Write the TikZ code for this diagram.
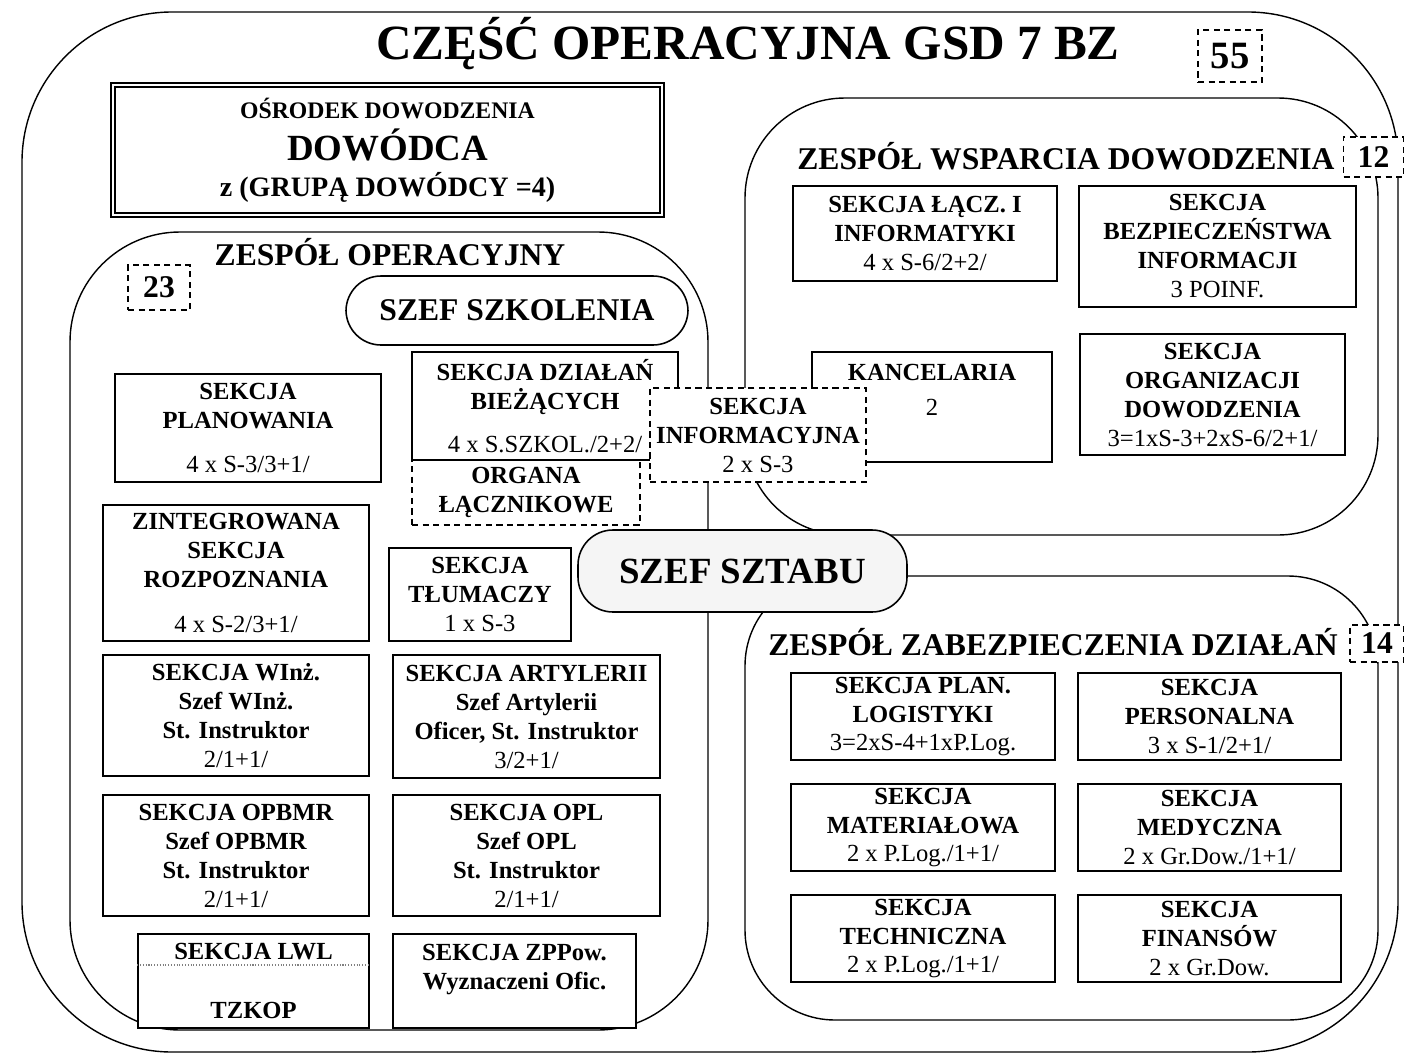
\documentclass[tikz,border=0pt]{standalone}
\usepackage{fontspec}
\setmainfont{Liberation Serif}
\newcommand{\ilosc}[1]{{\mdseries #1}}
\tikzset{
  zespol/.style={draw, line width=0.8pt},
  sekcja/.style={draw, line width=1.1pt, fill=white, align=center, inner sep=0pt, font=\fontsize{14}{16.5}\selectfont\bfseries},
  przerywana/.style={sekcja, dash pattern=on 3.5pt off 2.5pt},
  numer/.style={draw, line width=1.1pt, fill=white, dash pattern=on 3.5pt off 2.5pt, inner sep=0pt, font=\fontsize{18}{20}\selectfont\bfseries},
  naglowek/.style={font=\fontsize{18}{22}\selectfont\bfseries},
  szef/.style={draw, line width=0.9pt, rounded corners=0.7cm, inner sep=0pt, font=\fontsize{18}{22}\selectfont\bfseries}
}
\begin{document}
\begin{tikzpicture}
\useasboundingbox (0,0) rectangle (28.08,-21.24);

% zespoly
\draw [zespol, rounded corners=3cm] (0.44,-0.24) rectangle (27.96,-21.04);
\draw [zespol, rounded corners=2.2cm] (1.4,-4.64) rectangle (14.16,-20.6);
\draw [zespol, rounded corners=2cm] (14.9,-1.96) rectangle (27.56,-10.7);
\draw [zespol, rounded corners=1.8cm] (14.9,-11.52) rectangle (27.56,-20.4);

\node [font=\fontsize{28}{32}\selectfont\bfseries] (tytul) at (14.96,-0.88) {CZĘŚĆ OPERACYJNA GSD 7 BZ};

\node [sekcja, double, double distance=1.3pt, line width=0.9pt, minimum width=10.98cm, minimum height=2.6cm, font=\fontsize{13.5}{16}\selectfont\bfseries] (dowodca) at (7.75,-3.0) {OŚRODEK DOWODZENIA\\[5pt]{\fontsize{21}{24}\selectfont DOWÓDCA}\\[4pt]{\fontsize{16}{18}\selectfont z (GRUPĄ DOWÓDCY =4)}};

% zespol operacyjny
\node [naglowek] (toper) at (7.8,-5.04) {ZESPÓŁ OPERACYJNY};
\node [numer, minimum width=1.24cm, minimum height=0.9cm] (n23) at (3.18,-5.75) {23};
\node [szef, fill=white, minimum width=6.84cm, minimum height=1.38cm] (szkolenie) at (10.34,-6.21) {SZEF SZKOLENIA};

\node [przerywana, minimum width=4.56cm, minimum height=1.3cm] (organa) at (10.52,-9.85) {ORGANA\\ŁĄCZNIKOWE};
\node [sekcja, minimum width=5.32cm, minimum height=2.16cm] (dzialania) at (10.9,-8.12) {SEKCJA DZIAŁAŃ\\BIEŻĄCYCH\\[8pt]\ilosc{4 x S.SZKOL./2+2/}};
\node [sekcja, minimum width=5.32cm, minimum height=2.16cm] (planowanie) at (4.96,-8.56) {SEKCJA\\PLANOWANIA\\[9pt]\ilosc{4 x S-3/3+1/}};
\node [sekcja, minimum width=5.32cm, minimum height=2.72cm] (rozpoznanie) at (4.72,-11.46) {ZINTEGROWANA\\SEKCJA\\ROZPOZNANIA\\[9pt]\ilosc{4 x S-2/3+1/}};
\node [sekcja, minimum width=3.64cm, minimum height=1.86cm] (tlumacze) at (9.6,-11.89) {SEKCJA\\TŁUMACZY\\\ilosc{1 x S-3}};
\node [sekcja, minimum width=5.32cm, minimum height=2.42cm] (winz) at (4.72,-14.31) {SEKCJA WInż.\\Szef WInż.\\St. Instruktor\\\ilosc{2/1+1/}};
\node [sekcja, minimum width=5.34cm, minimum height=2.46cm] (artyleria) at (10.53,-14.33) {SEKCJA ARTYLERII\\Szef Artylerii\\Oficer, St. Instruktor\\\ilosc{3/2+1/}};
\node [sekcja, minimum width=5.32cm, minimum height=2.42cm] (opbmr) at (4.72,-17.11) {SEKCJA OPBMR\\Szef OPBMR\\St. Instruktor\\\ilosc{2/1+1/}};
\node [sekcja, minimum width=5.34cm, minimum height=2.42cm] (opl) at (10.53,-17.11) {SEKCJA OPL\\Szef OPL\\St. Instruktor\\\ilosc{2/1+1/}};
\node [sekcja, line width=0.9pt, minimum width=4.62cm, minimum height=1.88cm] (lwl) at (5.07,-19.62) {SEKCJA LWL\\[17pt]TZKOP};
\draw [gray, densely dotted, line width=0.6pt] ([yshift=0.32cm]lwl.west) -- ([yshift=0.32cm]lwl.east);
\node [sekcja, line width=0.9pt, minimum width=4.86cm, minimum height=1.88cm] (zppow) at (10.29,-19.62) {SEKCJA ZPPow.\\Wyznaczeni Ofic.\\\mbox{}};

% zespol wsparcia dowodzenia
\node [naglowek] (twsp) at (21.32,-3.12) {ZESPÓŁ WSPARCIA DOWODZENIA};
\node [sekcja, minimum width=5.28cm, minimum height=1.9cm] (lacznosc) at (18.5,-4.67) {SEKCJA ŁĄCZ. I\\INFORMATYKI\\\ilosc{4 x S-6/2+2/}};
\node [sekcja, minimum width=5.54cm, minimum height=2.42cm] (bezpieczenstwo) at (24.35,-4.93) {SEKCJA\\BEZPIECZEŃSTWA\\INFORMACJI\\\ilosc{3 POINF.}};
\node [sekcja, minimum width=5.3cm, minimum height=2.42cm] (organizacja) at (24.25,-7.89) {SEKCJA\\ORGANIZACJI\\DOWODZENIA\\\ilosc{3=1xS-3+2xS-6/2+1/}};
\node [sekcja, minimum width=4.8cm, minimum height=2.2cm] (kancelaria) at (18.64,-8.14) {KANCELARIA\\[3pt]\ilosc{2}\\[3pt]\mbox{}};

\node [przerywana, minimum width=4.32cm, minimum height=1.88cm] (informacja) at (15.16,-8.7) {SEKCJA\\INFORMACYJNA\\\ilosc{2 x S-3}};

% zespol zabezpieczenia dzialan
\node [naglowek] (tzab) at (21.06,-12.84) {ZESPÓŁ ZABEZPIECZENIA DZIAŁAŃ};
\node [sekcja, minimum width=5.28cm, minimum height=1.74cm] (logistyka) at (18.46,-14.33) {SEKCJA PLAN.\\LOGISTYKI\\\ilosc{3=2xS-4+1xP.Log.}};
\node [sekcja, minimum width=5.26cm, minimum height=1.74cm] (personalna) at (24.19,-14.33) {SEKCJA\\PERSONALNA\\\ilosc{3 x S-1/2+1/}};
\node [sekcja, minimum width=5.28cm, minimum height=1.74cm] (materialy) at (18.46,-16.55) {SEKCJA\\MATERIAŁOWA\\\ilosc{2 x P.Log./1+1/}};
\node [sekcja, minimum width=5.26cm, minimum height=1.74cm] (medyczna) at (24.19,-16.55) {SEKCJA\\MEDYCZNA\\\ilosc{2 x Gr.Dow./1+1/}};
\node [sekcja, minimum width=5.28cm, minimum height=1.74cm] (techniczna) at (18.46,-18.77) {SEKCJA\\TECHNICZNA\\\ilosc{2 x P.Log./1+1/}};
\node [sekcja, minimum width=5.26cm, minimum height=1.74cm] (finanse) at (24.19,-18.77) {SEKCJA\\FINANSÓW\\\ilosc{2 x Gr.Dow.}};

\node [szef, fill=gray!8, minimum width=6.58cm, minimum height=1.64cm, font=\fontsize{21}{24}\selectfont\bfseries] (sztab) at (14.85,-11.42) {SZEF SZTABU};

\node [numer, minimum width=1.28cm, minimum height=1.04cm, font=\fontsize{22}{24}\selectfont\bfseries] (n55) at (24.6,-1.12) {55};
\node [numer, minimum width=1.2cm, minimum height=0.8cm] (n12) at (27.47,-3.14) {12};
\node [numer, minimum width=1.08cm, minimum height=0.74cm] (n14) at (27.54,-12.87) {14};
\end{tikzpicture}
\end{document}
